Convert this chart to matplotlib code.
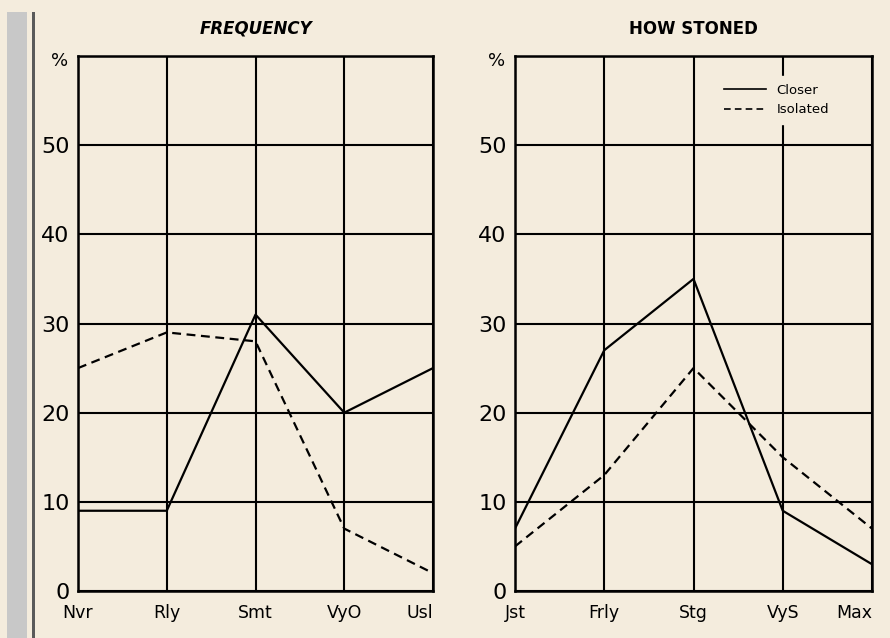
import matplotlib
matplotlib.use("Agg")
import matplotlib.pyplot as plt
from matplotlib.patches import Rectangle

# ---------- данные ----------
freq_labels = ["Nvr", "Rly", "Smt", "VyO", "Usl"]
freq_closer = [9, 9, 31, 20, 25]
freq_isolated = [25, 29, 28, 7, 2]

stoned_labels = ["Jst", "Frly", "Stg", "VyS", "Max"]
stoned_closer = [7, 27, 35, 9, 3]
stoned_isolated = [5, 13, 25, 15, 7]

y_ticks = [0, 10, 20, 30, 40, 50]

BG = "#f4ecdd"

fig = plt.figure(figsize=(8.9, 6.38), dpi=100, facecolor=BG)

# серая полоска слева и тёмная линия
fig.add_artist(Rectangle((7 / 890, 0), 20 / 890, 1 - 12 / 638,
                         transform=fig.transFigure, color="#c8c8c8", lw=0))
fig.add_artist(Rectangle((32 / 890, 0), 2.5 / 890, 1 - 12 / 638,
                         transform=fig.transFigure, color="#5a5a5a", lw=0))


def panel(rect, labels, closer, isolated, title, title_style):
    ax = fig.add_axes(rect)
    ax.set_facecolor(BG)
    x = list(range(len(labels)))
    ax.plot(x, closer, color="black", lw=1.6, ls="-", label="Closer", zorder=3)
    ax.plot(x, isolated, color="black", lw=1.6, ls=(0, (4, 2.5)), label="Isolated", zorder=3)
    ax.set_xlim(0, 4)
    ax.set_ylim(0, 60)
    ax.set_xticks(x)
    ax.set_xticklabels(labels, fontsize=12.5)
    # у крайних подписей небольшой сдвиг внутрь, как в оригинале
    ticklabels = ax.get_xticklabels()
    ticklabels[-1].set_horizontalalignment("right")
    ticklabels[-1].set_x(4.12)
    ax.set_yticks(range(0, 61, 10))
    ax.set_yticklabels([str(v) for v in y_ticks] + [""], fontsize=16)
    ax.tick_params(length=0, pad=6)
    ax.tick_params(axis="x", pad=9)
    ax.grid(True, color="black", lw=1.5)
    ax.set_axisbelow(True)
    for s in ax.spines.values():
        s.set_linewidth(1.8)
    ax.text(-0.053, 0.99, "%", transform=ax.transAxes, ha="center", va="center",
            fontsize=13)
    ax.set_title(title, fontsize=12, fontweight="bold", style=title_style, pad=16)
    return ax


ax1 = panel([78 / 890, 1 - 591 / 638, 355 / 890, 535 / 638],
            freq_labels, freq_closer, freq_isolated, "FREQUENCY", "italic")
ax2 = panel([515 / 890, 1 - 591 / 638, 357 / 890, 535 / 638],
            stoned_labels, stoned_closer, stoned_isolated, "HOW STONED", "normal")

leg = ax2.legend(loc="upper right", bbox_to_anchor=(0.92, 0.975), frameon=True,
                 fontsize=9.5, handlelength=3.2, handletextpad=0.8, borderpad=0.6,
                 labelspacing=0.5)
leg.get_frame().set_facecolor(BG)
leg.get_frame().set_edgecolor(BG)
leg.get_frame().set_alpha(1)
for line in leg.get_lines():
    line.set_linewidth(1.2)

fig.savefig("out.png", dpi=100, facecolor=BG)
